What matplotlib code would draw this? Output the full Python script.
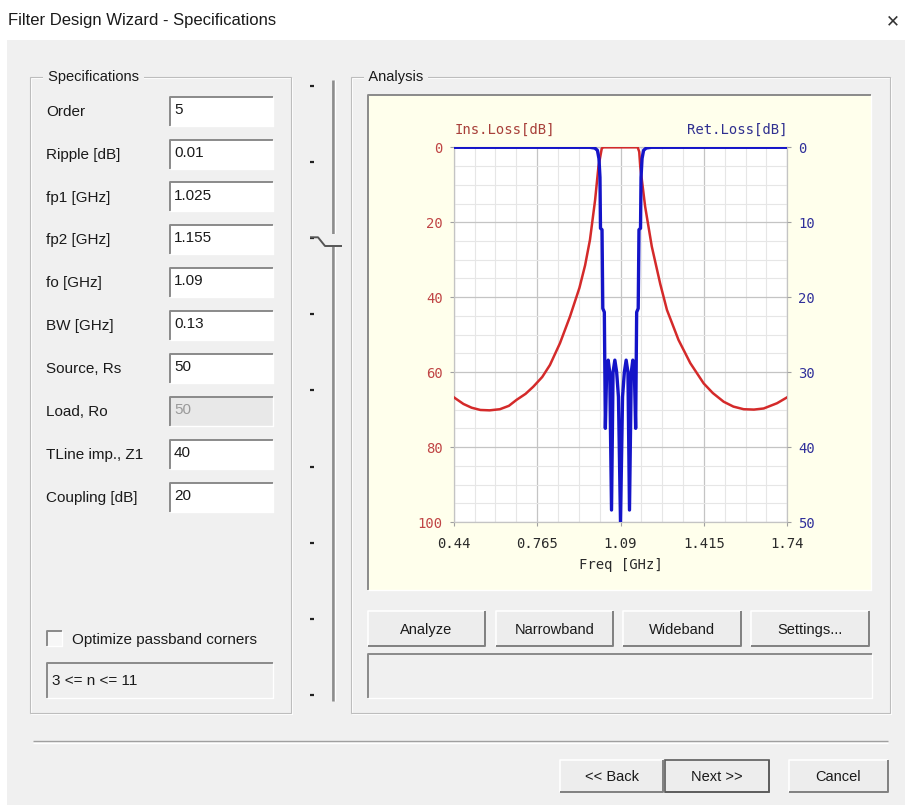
import matplotlib
matplotlib.use("Agg")
import matplotlib.pyplot as plt
from matplotlib.patches import Rectangle
from matplotlib.ticker import AutoMinorLocator

# data
freq_ticks = [0.44, 0.765, 1.09, 1.415, 1.74]
il_ticks = [0, 20, 40, 60, 80, 100]
rl_ticks = [0, 10, 20, 30, 40, 50]

# insertion loss (left axis, dB)
il_freq = [0.44, 0.478, 0.51, 0.544, 0.58, 0.62, 0.655, 0.685, 0.72, 0.75,
           0.785, 0.815, 0.854, 0.893, 0.93, 0.952, 0.971, 0.991, 1.004, 1.017,
           1.023, 1.157, 1.163, 1.167, 1.186, 1.212, 1.245, 1.271, 1.316, 1.362,
           1.414, 1.45, 1.492, 1.53, 1.57, 1.61, 1.648, 1.70, 1.74]
il_db = [66.7, 68.5, 69.5, 70.1, 70.2, 69.9, 69.0, 67.4, 65.8, 63.9,
         61.3, 58.1, 52.3, 45.2, 37.5, 31.5, 24.7, 14.1, 5.2, 0.3,
         0.0, 0.0, 1.2, 5.2, 15.8, 26.5, 36.5, 43.4, 51.4, 57.6,
         63.0, 65.6, 67.9, 69.2, 69.9, 70.0, 69.7, 68.3, 66.7]

# return loss (right axis, dB)
rl_freq = [0.44, 0.97, 0.99, 1.000, 1.006, 1.010, 1.012, 1.018, 1.021, 1.027,
           1.031, 1.036, 1.042, 1.048, 1.055, 1.061, 1.068, 1.075, 1.082, 1.090,
           1.098, 1.105, 1.112, 1.119, 1.125, 1.132, 1.138, 1.144, 1.149, 1.153,
           1.159, 1.162, 1.168, 1.170, 1.174, 1.180, 1.19, 1.21, 1.74]
rl_db = [0.0, 0.0, 0.1, 0.4, 1.5, 4.0, 10.8, 11.0, 21.5, 22.0,
         37.5, 30.0, 28.4, 30.0, 48.4, 30.0, 28.4, 30.0, 33.3, 50.0,
         33.3, 30.0, 28.4, 30.0, 48.4, 30.0, 28.4, 30.0, 37.5, 22.0,
         21.5, 11.0, 10.8, 4.0, 1.5, 0.4, 0.1, 0.0, 0.0]

spec_labels = ["Order", "Ripple [dB]", "fp1 [GHz]", "fp2 [GHz]", "fo [GHz]",
               "BW [GHz]", "Source, Rs", "Load, Ro", "TLine imp., Z1", "Coupling [dB]"]
spec_values = ["5", "0.01", "1.025", "1.155", "1.09", "0.13", "50", "50", "40", "20"]
analysis_buttons = ["Analyze", "Narrowband", "Wideband", "Settings..."]
nav_buttons = ["<< Back", "Next >>", "Cancel"]

W, H = 905, 805
ui_font = "Liberation Sans"
mono = "DejaVu Sans Mono"
gray_bg = "#F0F0F0"

fig = plt.figure(figsize=(W / 100, H / 100), dpi=100)
fig.patch.set_facecolor("white")
ui = fig.add_axes([0, 0, 1, 1])
ui.set_xlim(0, W)
ui.set_ylim(H, 0)
ui.axis("off")


def rect(x0, y0, x1, y1, face, edge="none", lw=1.0, z=1):
    ui.add_patch(Rectangle((x0, y0), x1 - x0, y1 - y0, facecolor=face,
                           edgecolor=edge, linewidth=lw, zorder=z))


def line(xs, ys, color, lw=1.0, z=3):
    ui.plot(xs, ys, color=color, lw=lw, zorder=z, solid_capstyle="butt")


def sunken(x0, y0, x1, y1, face):
    rect(x0, y0, x1, y1, face, z=2)
    line([x0, x0, x1], [y1, y0, y0], "#8A8A8A", 1.4)
    line([x0, x1, x1], [y1, y1, y0], "#FFFFFF", 1.0)


def button(x0, y0, x1, y1, text, default=False):
    rect(x0, y0, x1, y1, "#EDEDED", z=2)
    line([x0, x0, x1], [y1, y0, y0], "#FFFFFF", 1.2)
    line([x0, x1, x1], [y1, y1, y0], "#808080", 1.4)
    if default:
        rect(x0, y0, x1, y1, "none", "#5A5A5A", 1.2, z=4)
    ui.text((x0 + x1) / 2, (y0 + y1) / 2 + 1, text, ha="center", va="center",
            fontsize=10.5, family=ui_font, color="#1A1A1A", zorder=5)


def group(x0, y0, x1, y1, title):
    rect(x0 + 1, y0 + 1, x1 + 1, y1 + 1, "none", "#FFFFFF", 0.8, z=2)
    rect(x0, y0, x1, y1, "none", "#BDBDBD", 0.8, z=2)
    ui.text(x0 + 14, y0, " " + title + " ", ha="left", va="center", fontsize=10.5,
            family=ui_font, color="#1A1A1A", zorder=5,
            bbox=dict(facecolor=gray_bg, edgecolor="none", pad=0.5))


# window title bar and body
ui.text(8, 21, "Filter Design Wizard - Specifications", ha="left", va="center",
        fontsize=12, family=ui_font, color="#1A1A1A")
ui.text(893, 21, "\u2715", ha="center", va="center", fontsize=12,
        family="DejaVu Sans", color="#333333")
rect(7, 40, W, H, gray_bg, z=0)

# specifications group
group(30, 77, 291, 713, "Specifications")
for i, (lab, val) in enumerate(zip(spec_labels, spec_values)):
    cy = 111.7 + 42.9 * i
    ui.text(46, cy, lab, ha="left", va="center", fontsize=11, family=ui_font,
            color="#1A1A1A", zorder=5)
    disabled = lab.startswith("Load")
    sunken(170, cy - 15, 273, cy + 14, "#E8E8E8" if disabled else "white")
    ui.text(174, cy - 2, val, ha="left", va="center", fontsize=11, family=ui_font,
            color="#9A9A9A" if disabled else "#1A1A1A", zorder=5)

sunken(47, 631, 62, 646, "#F7F7F7")
ui.text(72, 640, "Optimize passband corners", ha="left", va="center", fontsize=11,
        family=ui_font, color="#1A1A1A", zorder=5)
sunken(47, 663, 273, 698, gray_bg)
ui.text(52, 681, "3 <= n <= 11", ha="left", va="center", fontsize=11,
        family=ui_font, color="#1A1A1A", zorder=5)

# slider
line([332.5, 332.5], [80, 701], "#8C8C8C", 2.0)
line([334.5, 334.5], [80, 701], "#FFFFFF", 1.0)
for k in range(9):
    ty = 86 + 76.1 * k
    line([310, 314], [ty, ty], "#222222", 1.6, z=4)
rect(318, 234, 345, 247, gray_bg, z=3)
line([310, 318, 325, 342], [237.3, 237.3, 246, 246], "#555555", 1.4, z=4)

# analysis group
group(351, 77, 890, 713, "Analysis")
sunken(368, 95, 871, 590, "#FFFFEC")
for lab, (x0, x1) in zip(analysis_buttons, [(368, 485), (496, 613), (623, 741), (751, 869)]):
    button(x0, 611, x1, 646, lab)
sunken(368, 654, 872, 698, gray_bg)

# separator and navigation buttons
line([33, 888], [741, 741], "#A0A0A0", 1.0)
line([33, 888], [742.5, 742.5], "#FFFFFF", 1.0)
for lab, (x0, x1) in zip(nav_buttons, [(560, 663), (665, 769), (789, 888)]):
    button(x0, 760, x1, 792, lab, default=(lab == "Next >>"))

# chart
px0, px1, py0, py1 = 453.7, 787.3, 147.3, 522.0
ax = fig.add_axes([px0 / W, 1 - py1 / H, (px1 - px0) / W, (py1 - py0) / H])
ax.set_facecolor("white")
ax.plot(il_freq, il_db, color="#D42A2A", lw=1.8, zorder=3)
ax.set_xlim(0.44, 1.74)
ax.set_ylim(100, 0)
ax.set_xticks(freq_ticks)
ax.set_xticklabels([f"{v:g}" for v in freq_ticks])
ax.set_yticks(il_ticks)
ax.xaxis.set_minor_locator(AutoMinorLocator(4))
ax.yaxis.set_minor_locator(AutoMinorLocator(4))
ax.grid(which="major", color="#C4C4C4", lw=0.9)
ax.grid(which="minor", color="#E6E6E6", lw=0.8)
ax.set_axisbelow(True)
for s in ax.spines.values():
    s.set_color("#C4C4C4")
    s.set_linewidth(0.9)
ax.tick_params(which="minor", length=0)
ax.tick_params(axis="y", which="major", length=3, color="#A0A0A0", pad=5,
               labelcolor="#C04545", labelsize=10)
ax.tick_params(axis="x", which="major", length=3, color="#A0A0A0", pad=8,
               labelcolor="#2A2A2A", labelsize=10)
for t in ax.get_xticklabels() + ax.get_yticklabels():
    t.set_family(mono)
ax.set_xlabel("Freq [GHz]", family=mono, fontsize=10, color="#2A2A2A", labelpad=5)

ax2 = ax.twinx()
ax2.plot(rl_freq, rl_db, color="#1414C8", lw=2.4, zorder=4)
ax2.set_ylim(50, 0)
ax2.set_yticks(rl_ticks)
ax2.tick_params(axis="y", length=3, color="#A0A0A0", pad=5,
                labelcolor="#30309A", labelsize=10)
for t in ax2.get_yticklabels():
    t.set_family(mono)
for s in ax2.spines.values():
    s.set_visible(False)

ui.text(505, 130, "Ins.Loss[dB]", ha="center", va="center", fontsize=10,
        family=mono, color="#A8403A", zorder=5)
ui.text(787, 130, "Ret.Loss[dB]", ha="right", va="center", fontsize=10,
        family=mono, color="#303090", zorder=5)

fig.savefig("out.png", dpi=100, facecolor=fig.get_facecolor())
